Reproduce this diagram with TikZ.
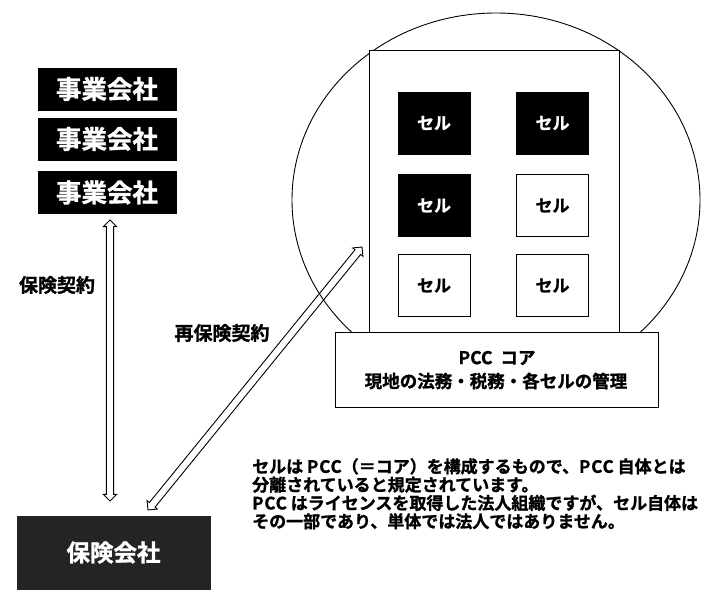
\documentclass[tikz,border=0pt]{standalone}
\usepackage{fontspec}
\setmainfont{Noto Sans CJK JP}[BoldFont={* Bold}, BoldFeatures={FakeBold=1.2}]
\usetikzlibrary{shapes.arrows,calc}
\tikzset{
  blackbox/.style={fill=black, draw=black, text=white, font=\bfseries\fontsize{25.5}{26}\selectfont, minimum width=138pt, minimum height=42pt, inner sep=0pt},
  insurer/.style={fill=black!86, draw=black!86, text=white, font=\bfseries\fontsize{23.5}{24}\selectfont, minimum width=193pt, minimum height=73pt, inner sep=0pt},
  label/.style={font=\bfseries\fontsize{19}{20}\selectfont, inner sep=0pt},
  cellbase/.style={draw=black, line width=0.9pt, minimum width=72pt, minimum height=62pt, inner sep=0pt, font=\bfseries\fontsize{17}{18}\selectfont},
  darkcell/.style={cellbase, fill=black, text=white},
  lightcell/.style={cellbase, fill=white, text=black},
  dblarrow/.style={double arrow, draw=black, line width=0.9pt, inner sep=3.2pt, minimum width=12pt, double arrow head extend=3pt, double arrow tip angle=90},
  core/.style={draw=black, line width=0.9pt, fill=white, minimum width=323pt, minimum height=75pt, inner sep=0pt},
  coretext/.style={font=\bfseries\fontsize{17.5}{18}\selectfont, inner sep=0pt},
  note/.style={font=\bfseries\fontsize{17}{18.3}\selectfont, align=left, inner sep=0pt, anchor=north west}
}
\newcommand\hollowarrow[2]{%
  \path let \p1=($(#2)-(#1)$), \n1={veclen(\x1,\y1)}, \n2={atan2(\y1,\x1)} in
    node[dblarrow, minimum height=\n1, rotate=\n2] at ($(#1)!0.5!(#2)$) {};}
\newcommand\wlat[1]{{\addfontfeature{LetterSpace=5}#1}}
\begin{document}
\begin{tikzpicture}[x=1pt, y=-1pt]
\useasboundingbox (0,0) rectangle (703,589);
% left column
\node[blackbox] (co1) at (107,89) {事業会社};
\node[blackbox] (co2) at (107,139) {事業会社};
\node[blackbox] (co3) at (107,192.5) {事業会社};
\node[insurer] (ins) at (113.5,552.5) {保険会社};
\node[label] (lab1) at (57,285) {保険契約};
\node[label] (lab2) at (222,333) {再保険契約};
% PCC
\draw[line width=0.9pt] (496,200) ellipse [x radius=204, y radius=187];
\node[draw=black, line width=0.9pt, fill=white, minimum width=250pt, minimum height=282pt, inner sep=0pt] (pcc) at (494,191) {};
\node[darkcell] (c11) at (434,123) {セル};
\node[darkcell] (c12) at (552.5,123) {セル};
\node[darkcell] (c21) at (434,205.5) {セル};
\node[lightcell] (c22) at (552.5,205.5) {セル};
\node[lightcell] (c31) at (434,285.5) {セル};
\node[lightcell] (c32) at (552.5,285.5) {セル};
\node[core] (corebox) at (496.5,369.5) {};
\node[coretext] (t1) at (497,358) {PCC\ \ コア};
\node[coretext] (t2) at (496,381) {現地の法務・税務・各セルの管理};
% arrows
\coordinate (v1) at (110,220);
\coordinate (v2) at (110,501);
\coordinate (d1) at (148,510);
\coordinate (d2) at (362,247);
\hollowarrow{v1}{v2}
\hollowarrow{d1}{d2}
% note
\node[note] (nt) at (252,458) {セルは \wlat{PCC}（＝コア）を構成するもので、\wlat{PCC} 自体とは\\分離されていると規定されています。\\\wlat{PCC} はライセンスを取得した法人組織ですが、セル自体は\\その一部であり、単体では法人ではありません。};
\end{tikzpicture}
\end{document}
